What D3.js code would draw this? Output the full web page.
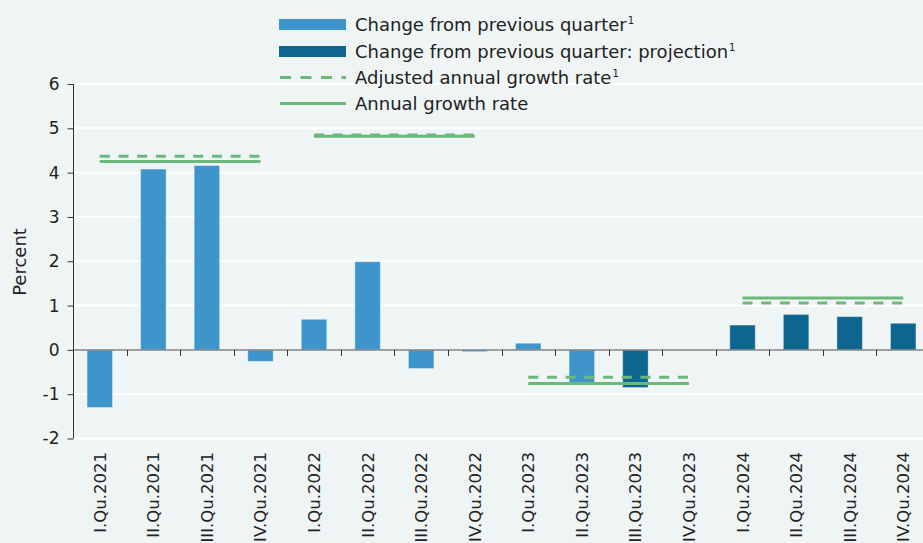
<!DOCTYPE html>
<html>
<head>
<meta charset="utf-8">
<script src="https://cdn.jsdelivr.net/npm/d3@7"></script>
<style>
  html, body { margin: 0; padding: 0; background: #eff4f5; overflow: hidden; }
  svg { display: block; font-family: "DejaVu Sans", sans-serif; }
</style>
</head>
<body>
<svg id="chart" width="923" height="543"></svg>
<script>
// quarters along the x axis
var quarters = ["I.Qu.2021", "II.Qu.2021", "III.Qu.2021", "IV.Qu.2021",
  "I.Qu.2022", "II.Qu.2022", "III.Qu.2022", "IV.Qu.2022",
  "I.Qu.2023", "II.Qu.2023", "III.Qu.2023", "IV.Qu.2023",
  "I.Qu.2024", "II.Qu.2024", "III.Qu.2024", "IV.Qu.2024"];
// change from previous quarter (null = no value)
var qoq = [-1.30, 4.08, 4.16, -0.26, 0.69, 1.99, -0.42, -0.04,
  0.15, -0.74, -0.85, null, 0.56, 0.80, 0.75, 0.60];
// true where the value is a projection
var projection = [false, false, false, false, false, false, false, false,
  false, false, true, true, true, true, true, true];
var years = ["2021", "2022", "2023", "2024"];
var annualRate = [4.25, 4.82, -0.76, 1.17];
var adjustedRate = [4.37, 4.85, -0.62, 1.06];
var yTicks = [-2, -1, 0, 1, 2, 3, 4, 5, 6];

var legendItems = [
  {label: "Change from previous quarter", note: "1", type: "bar", color: "#3e95cb"},
  {label: "Change from previous quarter: projection", note: "1", type: "bar", color: "#0d668f"},
  {label: "Adjusted annual growth rate", note: "1", type: "dash", color: "#6cb87b"},
  {label: "Annual growth rate", note: "", type: "line", color: "#6cb87b"}
];

var colLight = "#3e95cb", colDark = "#0d668f", colGreen = "#6cb87b";
var svg = d3.select("#chart");

var x = d3.scaleBand().domain(quarters).range([73, 930]).padding(0);
var y = d3.scaleLinear().domain([-2, 6]).range([438.5, 84]);
var bw = x.bandwidth() * 0.475;

// gridlines
svg.append("g").selectAll("line").data(yTicks).enter().append("line")
  .attr("x1", 73).attr("x2", 923)
  .attr("y1", function(d) { return y(d); }).attr("y2", function(d) { return y(d); })
  .attr("stroke", "#ffffff").attr("stroke-width", 2);

// bars
var barData = quarters.map(function(q, i) { return {q: q, v: qoq[i], p: projection[i]}; })
  .filter(function(d) { return d.v !== null; });
svg.append("g").selectAll("rect").data(barData).enter().append("rect")
  .attr("x", function(d) { return x(d.q) + (x.bandwidth() - bw) / 2; })
  .attr("width", bw)
  .attr("y", function(d) { return y(Math.max(0, d.v)); })
  .attr("height", function(d) { return Math.abs(y(d.v) - y(0)); })
  .attr("fill", function(d) { return d.p ? colDark : colLight; })
  .attr("stroke", "rgba(255,255,255,0.35)").attr("stroke-width", 1);

// zero line
svg.append("line").attr("x1", 73).attr("x2", 923)
  .attr("y1", y(0)).attr("y2", y(0))
  .attr("stroke", "#808080").attr("stroke-width", 1.5);

// x ticks at band boundaries
svg.append("g").selectAll("line").data(quarters.slice(1)).enter().append("line")
  .attr("x1", function(d) { return Math.round(x(d)) + 0.5; })
  .attr("x2", function(d) { return Math.round(x(d)) + 0.5; })
  .attr("y1", y(0)).attr("y2", y(0) + 6)
  .attr("stroke", "#333").attr("stroke-width", 1);

// y axis
var yAxis = svg.append("g").attr("transform", "translate(73.5,0)")
  .call(d3.axisLeft(y).tickValues(yTicks).tickSize(6).tickPadding(8)
    .tickFormat(function(d) { return String(d); }));
yAxis.select(".domain").attr("stroke", "#333").attr("d", "M0," + y(6) + "V" + y(-2));
yAxis.selectAll(".tick line").attr("stroke", "#333");
yAxis.selectAll(".tick text").attr("font-size", 17).attr("fill", "#222")
  .attr("font-family", "DejaVu Sans, sans-serif");

svg.append("text")
  .attr("transform", "translate(26," + 262 + ") rotate(-90)")
  .attr("text-anchor", "middle").attr("font-size", 18).attr("fill", "#222")
  .text("Percent");

// x labels
svg.append("g").selectAll("text").data(quarters).enter().append("text")
  .attr("transform", function(d) { return "translate(" + (x(d) + x.bandwidth() / 2 + 6) + ",452) rotate(-90)"; })
  .attr("text-anchor", "end").attr("font-size", 16.5).attr("fill", "#222")
  .text(function(d) { return d; });

// annual growth lines: from Q1 centre to Q4 centre of each year
function yearSpan(yr) {
  var first = x("I.Qu." + yr) + x.bandwidth() / 2;
  var last = x("IV.Qu." + yr) + x.bandwidth() / 2;
  return [first, last];
}
var g = svg.append("g");
years.forEach(function(yr, i) {
  var s = yearSpan(yr);
  g.append("line").attr("x1", s[0]).attr("x2", s[1])
    .attr("y1", y(annualRate[i])).attr("y2", y(annualRate[i]))
    .attr("stroke", colGreen).attr("stroke-width", 3);
  g.append("line").attr("x1", s[0]).attr("x2", s[1])
    .attr("y1", y(adjustedRate[i])).attr("y2", y(adjustedRate[i]))
    .attr("stroke", colGreen).attr("stroke-width", 3)
    .attr("stroke-dasharray", "10,8.7");
});

// legend
var lg = svg.append("g").attr("transform", "translate(279,0)");
var rowsY = [24.5, 51.5, 77.5, 103.5];
legendItems.forEach(function(it, i) {
  var r = lg.append("g").attr("transform", "translate(0," + rowsY[i] + ")");
  if (it.type === "bar") {
    r.append("rect").attr("x", 0).attr("y", -5.5).attr("width", 67).attr("height", 11).attr("fill", it.color);
  } else {
    r.append("line").attr("x1", 1).attr("x2", 67).attr("y1", 0).attr("y2", 0)
      .attr("stroke", it.color).attr("stroke-width", 3)
      .attr("stroke-dasharray", it.type === "dash" ? "11,9.5" : null);
  }
  var t = r.append("text").attr("x", 76).attr("y", 6.5).attr("font-size", 18).attr("fill", "#222");
  t.append("tspan").text(it.label);
  if (it.note) {
    t.append("tspan").attr("font-size", 10).attr("dx", 1).attr("dy", -7).text(it.note);
  }
});
</script>
</body>
</html>
